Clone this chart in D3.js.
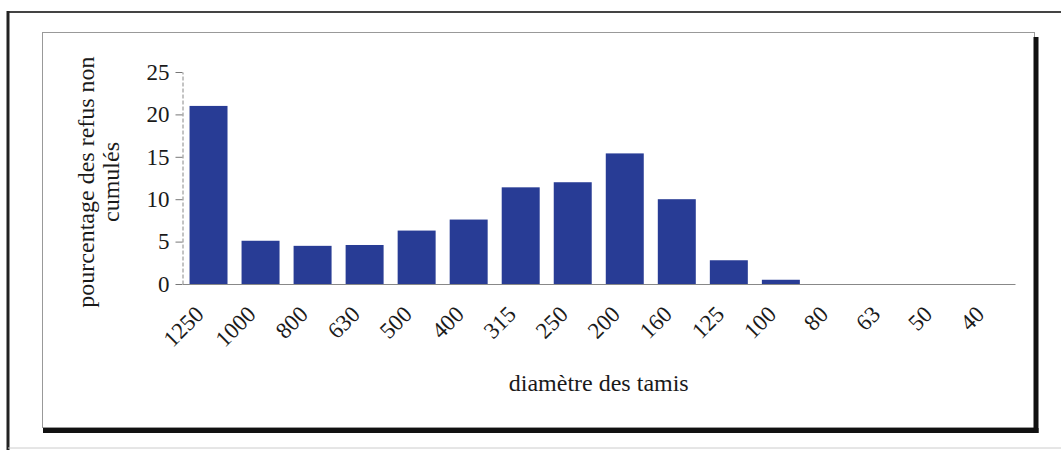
<!DOCTYPE html>
<html>
<head>
<meta charset="utf-8">
<script src="https://cdn.jsdelivr.net/npm/d3@7"></script>
<style>
  html, body { margin: 0; padding: 0; background: #fff; }
  svg { display: block; }
  text { font-family: "Liberation Serif", "Times New Roman", serif; fill: #1a1a1a; }
</style>
</head>
<body>
<svg id="chart" width="1061" height="450"></svg>
<script>
// Sieve openings (µm) and retained percentage (non cumulative)
const sieves = ["1250", "1000", "800", "630", "500", "400", "315", "250", "200", "160", "125", "100", "80", "63", "50", "40"];
const retained = [21.0, 5.1, 4.5, 4.6, 6.3, 7.6, 11.4, 12.0, 15.4, 10.0, 2.8, 0.5, 0, 0, 0, 0];
const yTicks = [0, 5, 10, 15, 20, 25];

const svg = d3.select("#chart");

// Page frame
svg.append("line").attr("x1", 8).attr("x2", 1061).attr("y1", 12).attr("y2", 12)
  .attr("stroke", "#444").attr("stroke-width", 2);
svg.append("line").attr("x1", 8).attr("x2", 8).attr("y1", 11).attr("y2", 450)
  .attr("stroke", "#222").attr("stroke-width", 3);
svg.append("line").attr("x1", 8).attr("x2", 1061).attr("y1", 448).attr("y2", 448)
  .attr("stroke", "#ccc").attr("stroke-width", 1);

// Chart area box with drop shadow
svg.append("rect").attr("x", 42.5).attr("y", 32.5).attr("width", 992).attr("height", 395)
  .attr("fill", "#fff").attr("stroke", "#999").attr("stroke-width", 1);
svg.append("line").attr("x1", 43).attr("x2", 1038.5).attr("y1", 430.5).attr("y2", 430.5)
  .attr("stroke", "#111").attr("stroke-width", 5);
svg.append("line").attr("x1", 1036).attr("x2", 1036).attr("y1", 37).attr("y2", 433)
  .attr("stroke", "#111").attr("stroke-width", 5);

const x0 = 182.5, x1 = 1015, yTop = 72, yBot = 284;

const x = d3.scaleBand().domain(sieves).range([x0, x1]).paddingInner(0.27).paddingOuter(0.135);
const y = d3.scaleLinear().domain([0, 25]).range([yBot, yTop]);

// Bars
svg.append("g").selectAll("rect")
  .data(sieves.map((s, i) => ({ s, v: retained[i] })).filter(d => d.v > 0))
  .join("rect")
  .attr("x", d => x(d.s))
  .attr("y", d => y(d.v))
  .attr("width", x.bandwidth())
  .attr("height", d => y(0) - y(d.v))
  .attr("fill", "#283c95");

// Y axis
const yAxis = svg.append("g").attr("transform", `translate(${x0},0)`)
  .call(d3.axisLeft(y).tickValues(yTicks).tickSize(7).tickPadding(6).tickSizeOuter(0));
yAxis.select(".domain").attr("stroke", "#888").attr("stroke-dasharray", "4,2");
yAxis.selectAll(".tick line").attr("stroke", "#777");
yAxis.selectAll(".tick text").style("font-size", "23px").attr("font-family", null);

// X axis
const xAxis = svg.append("g").attr("transform", `translate(0,${yBot})`)
  .call(d3.axisBottom(x).tickSize(0).tickSizeOuter(0));
xAxis.select(".domain").attr("stroke", "#888");
xAxis.selectAll(".tick text")
  .style("font-size", "23px").attr("font-family", null)
  .attr("text-anchor", "end")
  .attr("dy", "0.35em")
  .attr("transform", "translate(-9,26) rotate(-45)")
  .attr("y", 0).attr("x", 0);

// Axis titles
svg.append("text").attr("x", (x0 + x1) / 2).attr("y", 391)
  .attr("text-anchor", "middle").style("font-size", "24px")
  .text("diamètre des tamis");

const yTitle = svg.append("text")
  .attr("transform", "translate(94,182) rotate(-90)")
  .attr("text-anchor", "middle").style("font-size", "24px");
yTitle.append("tspan").attr("x", 0).attr("y", 0).text("pourcentage des refus non");
yTitle.append("tspan").attr("x", 0).attr("y", 25).text("cumulés");
</script>
</body>
</html>
